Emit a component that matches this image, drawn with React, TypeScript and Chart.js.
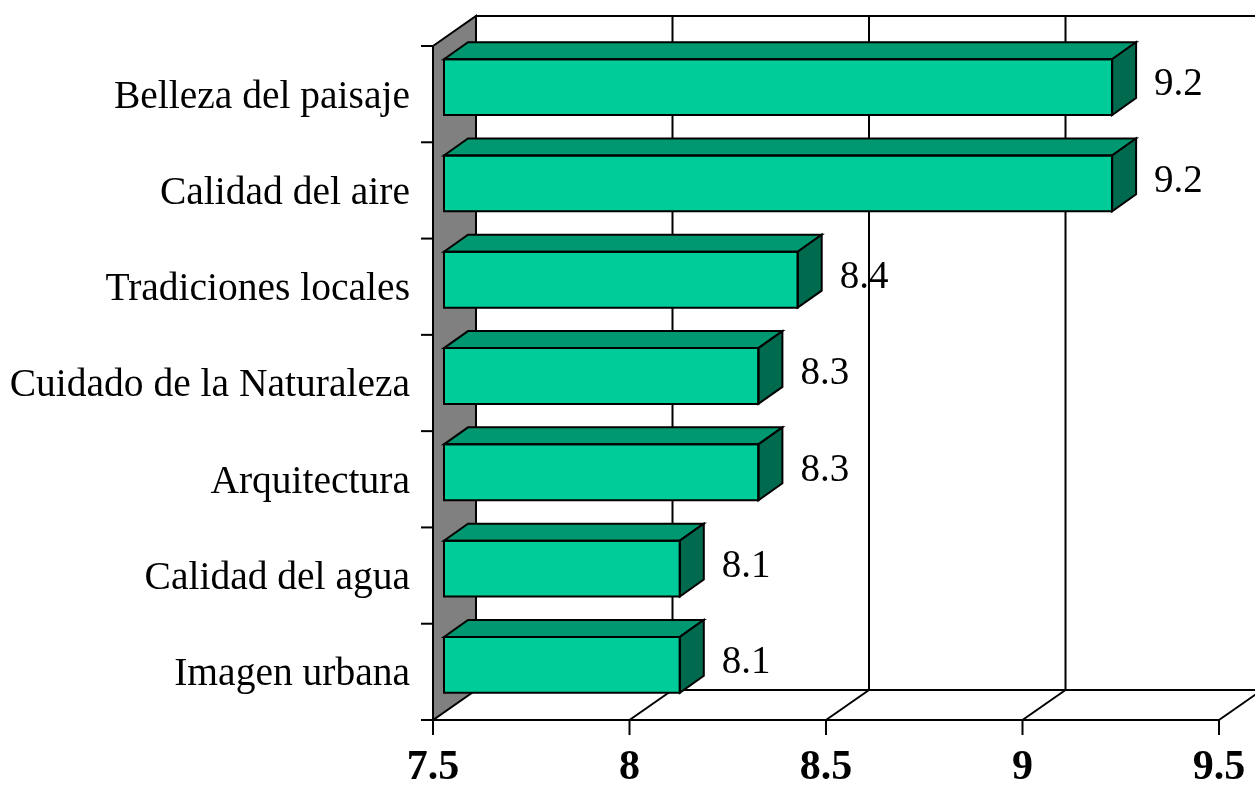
import React, { useEffect, useRef } from 'react';
import { Chart, registerables } from 'chart.js';

Chart.register(...registerables);

const categories = [
  'Belleza del paisaje',
  'Calidad del aire',
  'Tradiciones locales',
  'Cuidado de la Naturaleza',
  'Arquitectura',
  'Calidad del agua',
  'Imagen urbana',
];
const values = [9.2, 9.2, 8.4, 8.3, 8.3, 8.1, 8.1];
const valueLabels = ['9.2', '9.2', '8.4', '8.3', '8.3', '8.1', '8.1'];
const xTicks = [7.5, 8, 8.5, 9, 9.5];

const FONT = '"Liberation Serif", "Times New Roman", serif';
const FRONT = { dx: -11, dy: 7 };
const DEPTH = { dx: 43, dy: -30 };
const BAR_DEPTH = { dx: 24, dy: -17 };
const COL_FRONT = '#00CC99';
const COL_TOP = '#009871';
const COL_SIDE = '#006A4F';

function line(ctx: CanvasRenderingContext2D, x1: number, y1: number, x2: number, y2: number) {
  ctx.beginPath();
  ctx.moveTo(x1, y1);
  ctx.lineTo(x2, y2);
  ctx.stroke();
}

function poly(ctx: CanvasRenderingContext2D, pts: number[][], fill: string | null) {
  ctx.beginPath();
  ctx.moveTo(pts[0][0], pts[0][1]);
  for (let i = 1; i < pts.length; i++) ctx.lineTo(pts[i][0], pts[i][1]);
  ctx.closePath();
  if (fill) {
    ctx.fillStyle = fill;
    ctx.fill();
  }
  ctx.stroke();
}

const frame3d = {
  id: 'frame3d',
  beforeDatasetsDraw(chart: any) {
    const { ctx, chartArea, scales } = chart;
    const xs = scales.x;
    const ys = scales.y;
    const fx = (v: number) => xs.getPixelForValue(v) + FRONT.dx;
    const fTop = chartArea.top + FRONT.dy;
    const fBot = chartArea.bottom + FRONT.dy;
    const x0 = fx(xTicks[0]);
    const x1 = fx(xTicks[xTicks.length - 1]);
    ctx.save();
    ctx.lineWidth = 2;
    ctx.strokeStyle = '#000';
    ctx.lineJoin = 'miter';

    // value labels
    const meta = chart.getDatasetMeta(0);
    ctx.fillStyle = '#000';
    ctx.font = `39px ${FONT}`;
    ctx.textAlign = 'left';
    ctx.textBaseline = 'middle';
    meta.data.forEach((bar: any, i: number) => {
      const p = bar.getProps(['x', 'y'], true);
      ctx.fillText(valueLabels[i], p.x + BAR_DEPTH.dx + 18, p.y - 2);
    });

    // back wall grid lines
    xTicks.slice(1).forEach((v) => {
      const bx = fx(v) + DEPTH.dx;
      line(ctx, bx, fTop + DEPTH.dy, bx, fBot + DEPTH.dy);
    });
    line(ctx, x0 + DEPTH.dx, fTop + DEPTH.dy, x1 + DEPTH.dx, fTop + DEPTH.dy);

    // floor
    line(ctx, x0 + DEPTH.dx, fBot + DEPTH.dy, x1 + DEPTH.dx, fBot + DEPTH.dy);
    line(ctx, x0, fBot, x1, fBot);
    xTicks.slice(1).forEach((v) => {
      const px = fx(v);
      line(ctx, px, fBot, px + DEPTH.dx, fBot + DEPTH.dy);
    });
    // x tick marks
    xTicks.forEach((v) => {
      const px = fx(v);
      line(ctx, px, fBot, px, fBot + 15);
    });

    // left wall
    poly(
      ctx,
      [
        [x0, fTop],
        [x0 + DEPTH.dx, fTop + DEPTH.dy],
        [x0 + DEPTH.dx, fBot + DEPTH.dy],
        [x0, fBot],
      ],
      '#808080'
    );

    // category tick marks
    for (let i = 0; i <= categories.length; i++) {
      const yb = ys.getPixelForValue(i - 0.5) + FRONT.dy;
      line(ctx, x0 - 12, yb, x0, yb);
    }
    ctx.restore();
  },
  afterDatasetsDraw(chart: any) {
    const { ctx } = chart;
    const meta = chart.getDatasetMeta(0);
    ctx.save();
    ctx.lineWidth = 2;
    ctx.strokeStyle = '#000';
    ctx.lineJoin = 'miter';
    meta.data.forEach((bar: any) => {
      const p = bar.getProps(['x', 'y', 'base', 'height'], true);
      const top = p.y - p.height / 2;
      const bot = p.y + p.height / 2;
      const xr = p.x;
      const xl = p.base;
      poly(
        ctx,
        [
          [xl, top],
          [xr, top],
          [xr + BAR_DEPTH.dx, top + BAR_DEPTH.dy],
          [xl + BAR_DEPTH.dx, top + BAR_DEPTH.dy],
        ],
        COL_TOP
      );
      poly(
        ctx,
        [
          [xr, top],
          [xr, bot],
          [xr + BAR_DEPTH.dx, bot + BAR_DEPTH.dy],
          [xr + BAR_DEPTH.dx, top + BAR_DEPTH.dy],
        ],
        COL_SIDE
      );
      poly(
        ctx,
        [
          [xl, top],
          [xr, top],
          [xr, bot],
          [xl, bot],
        ],
        null
      );
    });
    ctx.restore();
  },
};

export default function App() {
  const ref = useRef<HTMLCanvasElement | null>(null);
  useEffect(() => {
    if (!ref.current) return;
    const chart = new Chart(ref.current, {
      type: 'bar',
      data: {
        labels: categories,
        datasets: [
          {
            data: values,
            base: 7.5,
            backgroundColor: COL_FRONT,
            borderWidth: 0,
            barPercentage: 0.58,
            categoryPercentage: 1,
          },
        ],
      },
      options: {
        indexAxis: 'y',
        responsive: false,
        animation: false,
        devicePixelRatio: 1,
        layout: { padding: { top: 39, right: 25, left: 0, bottom: 0 } },
        plugins: {
          legend: { display: false },
          tooltip: { enabled: false },
        },
        scales: {
          x: {
            type: 'linear',
            position: 'bottom',
            min: 7.5,
            max: 9.5,
            grid: { display: false, drawTicks: false },
            border: { display: false },
            afterBuildTicks: (scale: any) => {
              scale.ticks = xTicks.map((v) => ({ value: v }));
            },
            afterFit: (scale: any) => {
              scale.height = 72;
              scale.paddingLeft = 0;
              scale.paddingRight = 0;
            },
            ticks: {
              autoSkip: false,
              maxRotation: 0,
              labelOffset: FRONT.dx,
              padding: 30,
              color: '#000',
              font: { family: FONT, size: 42, weight: 'bold' },
              callback: (v: any) => String(v),
            },
          },
          y: {
            type: 'category',
            grid: { display: false, drawTicks: false },
            border: { display: false },
            afterFit: (scale: any) => {
              scale.width = 444;
              scale.paddingTop = 0;
              scale.paddingBottom = 0;
            },
            ticks: {
              autoSkip: false,
              padding: 34,
              labelOffset: 10,
              color: '#000',
              font: { family: FONT, size: 39.5 },
            },
          },
        },
      },
      plugins: [frame3d],
    } as any);
    return () => chart.destroy();
  }, []);
  return (
    <div style={{ position: 'absolute', left: 0, top: 0, width: 1255, height: 785, background: '#fff' }}>
      <canvas ref={ref} width={1255} height={785} style={{ display: 'block' }} />
    </div>
  );
}
